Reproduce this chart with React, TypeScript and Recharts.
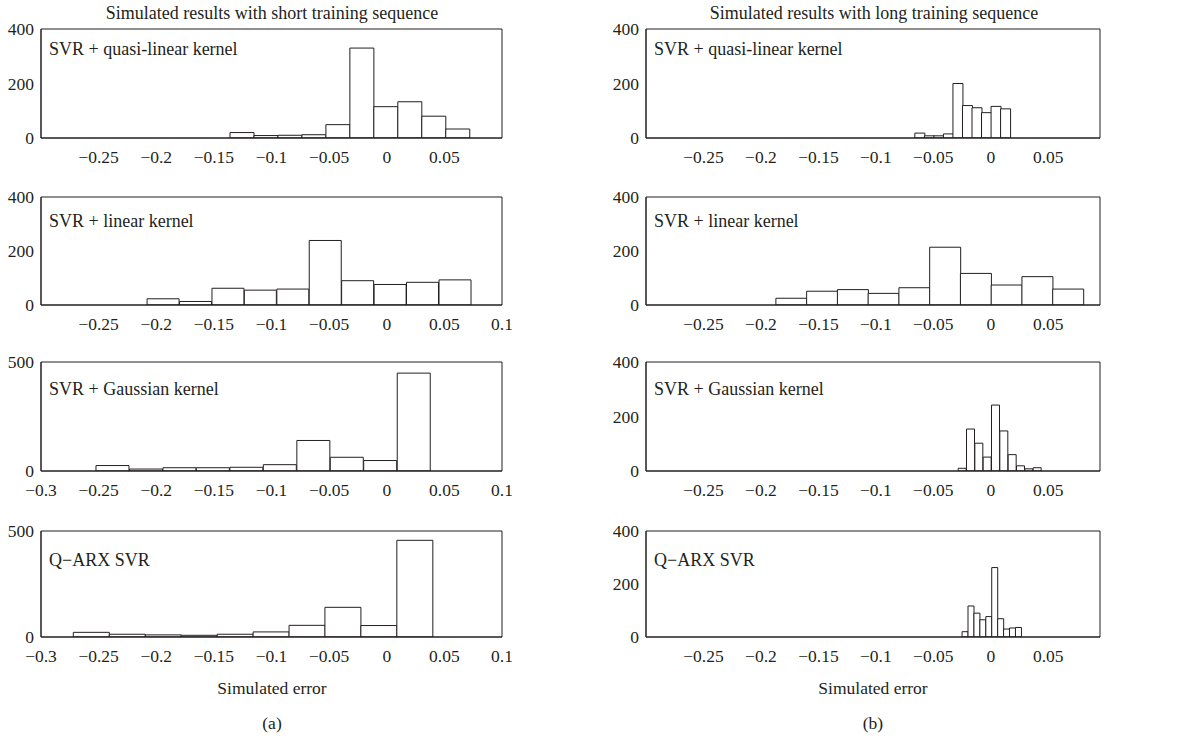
import { Bar, BarChart, XAxis, YAxis } from "recharts";

// bin centres (simulated error) and counts
const shortQuasiBins = [-0.1256, -0.1048, -0.084, -0.0632, -0.0424, -0.0216, -0.0008, 0.02, 0.0408, 0.0616];
const shortQuasiCounts = [20, 9, 10, 12, 49, 330, 115, 133, 80, 33];

const shortLinearBins = [-0.1939, -0.1658, -0.1376, -0.1095, -0.0813, -0.0532, -0.0251, 0.0031, 0.0312, 0.0594];
const shortLinearCounts = [23, 13, 62, 55, 59, 239, 90, 76, 84, 93];

const shortGaussBins = [-0.2378, -0.2087, -0.1797, -0.1507, -0.1216, -0.0926, -0.0635, -0.0345, -0.0055, 0.0236];
const shortGaussCounts = [25, 9, 15, 15, 17, 29, 140, 63, 48, 449];

const shortQarxBins = [-0.2564, -0.2252, -0.194, -0.1628, -0.1316, -0.1004, -0.0692, -0.0381, -0.0069, 0.0243];
const shortQarxCounts = [22, 13, 10, 8, 13, 24, 55, 140, 54, 456];

const longQuasiBins = [-0.06196, -0.05367, -0.04538, -0.03709, -0.0288, -0.02051, -0.01222, -0.00393, 0.00436, 0.01265];
const longQuasiCounts = [18, 8, 8, 15, 200, 119, 111, 93, 116, 107];

const longLinearBins = [-0.17362, -0.14686, -0.1201, -0.09334, -0.06658, -0.03982, -0.01306, 0.0137, 0.04046, 0.06722];
const longLinearCounts = [25, 51, 57, 43, 64, 214, 117, 74, 105, 59];

const longGaussBins = [-0.02478, -0.01753, -0.01028, -0.00303, 0.00422, 0.01147, 0.01872, 0.02597, 0.03322, 0.04047];
const longGaussCounts = [10, 154, 102, 51, 242, 147, 60, 19, 8, 12];

const longQarxBins = [-0.02242, -0.01726, -0.0121, -0.00694, -0.00178, 0.00338, 0.00854, 0.0137, 0.01886, 0.02402];
const longQarxCounts = [20, 117, 90, 65, 77, 262, 69, 30, 34, 36];

const leftTicksA = [-0.25, -0.2, -0.15, -0.1, -0.05, 0, 0.05];
const leftTicksB = [-0.25, -0.2, -0.15, -0.1, -0.05, 0, 0.05, 0.1];
const leftTicksC = [-0.3, -0.25, -0.2, -0.15, -0.1, -0.05, 0, 0.05, 0.1];
const rightTicks = [-0.25, -0.2, -0.15, -0.1, -0.05, 0, 0.05];
const yTicks400 = [0, 200, 400];
const yTicks500 = [0, 500];

const panelNames = ["SVR + quasi-linear kernel", "SVR + linear kernel", "SVR + Gaussian kernel", "Q\u2212ARX SVR"];

const ink = "#231f20";
const font = "Liberation Serif, DejaVu Serif, serif";

const rowTops = [29, 197, 362, 531];
const rowHeights = [109, 108, 109, 106];
const labelBaselines = [26, 30, 33, 35];

const fmt = (v: number) => (v < 0 ? "\u2212" + Math.abs(v) : String(v));

type PanelProps = {
  left: number;
  top: number;
  width: number;
  height: number;
  bins: number[];
  counts: number[];
  xDomain: [number, number];
  xTicks: number[];
  yMax: number;
  yTicks: number[];
  name: string;
  labelBase: number;
};

function Panel(p: PanelProps) {
  const data = p.bins.map((x, i) => ({ x, count: p.counts[i] }));
  const line = { stroke: ink, strokeWidth: 1 };
  return (
    <div style={{ position: "absolute", left: p.left - 40, top: p.top - 10, fontFamily: font }}>
      <BarChart
        width={p.width + 50}
        height={p.height + 44}
        data={data}
        margin={{ top: 10, right: 10, left: 0, bottom: 0 }}
        barCategoryGap={0}
        barGap={0}
      >
        <XAxis
          dataKey="x"
          type="number"
          domain={p.xDomain}
          allowDataOverflow
          ticks={p.xTicks}
          interval={0}
          tickFormatter={fmt}
          tickSize={0}
          tickMargin={13}
          height={34}
          axisLine={line}
          tickLine={false}
          tick={{ fill: ink, fontSize: 17.5, fontFamily: font }}
        />
        <XAxis
          xAxisId="bm"
          orientation="bottom"
          mirror
          dataKey="x"
          type="number"
          domain={p.xDomain}
          allowDataOverflow
          ticks={p.xTicks}
          interval={0}
          tick={false}
          tickSize={5}
          axisLine={line}
          tickLine={line}
        />
        <XAxis
          xAxisId="top"
          orientation="top"
          mirror
          dataKey="x"
          type="number"
          domain={p.xDomain}
          allowDataOverflow
          ticks={p.xTicks}
          interval={0}
          tick={false}
          tickSize={5}
          axisLine={line}
          tickLine={line}
        />
        <YAxis
          type="number"
          domain={[0, p.yMax]}
          allowDataOverflow
          ticks={p.yTicks}
          interval={0}
          tickSize={0}
          tickMargin={7}
          width={40}
          axisLine={line}
          tickLine={false}
          tick={{ fill: ink, fontSize: 17.5, fontFamily: font }}
        />
        <YAxis
          yAxisId="lm"
          orientation="left"
          mirror
          type="number"
          domain={[0, p.yMax]}
          allowDataOverflow
          ticks={p.yTicks}
          interval={0}
          tick={false}
          tickSize={5}
          axisLine={line}
          tickLine={line}
        />
        <YAxis
          yAxisId="right"
          orientation="right"
          mirror
          type="number"
          domain={[0, p.yMax]}
          allowDataOverflow
          ticks={p.yTicks}
          interval={0}
          tick={false}
          tickSize={5}
          axisLine={line}
          tickLine={line}
        />
        <Bar dataKey="count" fill="#fff" stroke={ink} strokeWidth={1} isAnimationActive={false} />
      </BarChart>
      <div
        style={{
          position: "absolute",
          left: 48,
          top: 10 + p.labelBase - 15,
          fontSize: 18,
          lineHeight: 1,
          fontFamily: font,
          color: ink,
          whiteSpace: "nowrap",
        }}
      >
        {p.name}
      </div>
    </div>
  );
}

const textStyle = {
  position: "absolute" as const,
  fontFamily: font,
  color: ink,
  lineHeight: 1,
  whiteSpace: "nowrap" as const,
  transform: "translateX(-50%)",
};

export default function App() {
  const leftCol = [
    { bins: shortQuasiBins, counts: shortQuasiCounts, ticks: leftTicksA, yMax: 400, yTicks: yTicks400 },
    { bins: shortLinearBins, counts: shortLinearCounts, ticks: leftTicksB, yMax: 400, yTicks: yTicks400 },
    { bins: shortGaussBins, counts: shortGaussCounts, ticks: leftTicksC, yMax: 500, yTicks: yTicks500 },
    { bins: shortQarxBins, counts: shortQarxCounts, ticks: leftTicksC, yMax: 500, yTicks: yTicks500 },
  ];
  const rightCol = [
    { bins: longQuasiBins, counts: longQuasiCounts },
    { bins: longLinearBins, counts: longLinearCounts },
    { bins: longGaussBins, counts: longGaussCounts },
    { bins: longQarxBins, counts: longQarxCounts },
  ];
  return (
    <div style={{ position: "absolute", left: 0, top: 0, width: 1194, height: 737, background: "#fff", overflow: "hidden", fontFamily: font }}>
      <div style={{ ...textStyle, left: 272, top: 4, fontSize: 18 }}>Simulated results with short training sequence</div>
      <div style={{ ...textStyle, left: 874, top: 4, fontSize: 18 }}>Simulated results with long training sequence</div>
      {leftCol.map((c, i) => (
        <Panel
          key={"l" + i}
          left={41}
          top={rowTops[i]}
          width={461}
          height={rowHeights[i]}
          bins={c.bins}
          counts={c.counts}
          xDomain={[-0.3, 0.1]}
          xTicks={c.ticks}
          yMax={c.yMax}
          yTicks={c.yTicks}
          name={panelNames[i]}
          labelBase={labelBaselines[i]}
        />
      ))}
      {rightCol.map((c, i) => (
        <Panel
          key={"r" + i}
          left={646}
          top={rowTops[i]}
          width={454}
          height={rowHeights[i]}
          bins={c.bins}
          counts={c.counts}
          xDomain={[-0.3, 0.095]}
          xTicks={rightTicks}
          yMax={400}
          yTicks={yTicks400}
          name={panelNames[i]}
          labelBase={labelBaselines[i]}
        />
      ))}
      <div style={{ ...textStyle, left: 272, top: 680, fontSize: 17.5 }}>Simulated error</div>
      <div style={{ ...textStyle, left: 873, top: 680, fontSize: 17.5 }}>Simulated error</div>
      <div style={{ ...textStyle, left: 272, top: 715, fontSize: 17.5 }}>(a)</div>
      <div style={{ ...textStyle, left: 873, top: 715, fontSize: 17.5 }}>(b)</div>
    </div>
  );
}
